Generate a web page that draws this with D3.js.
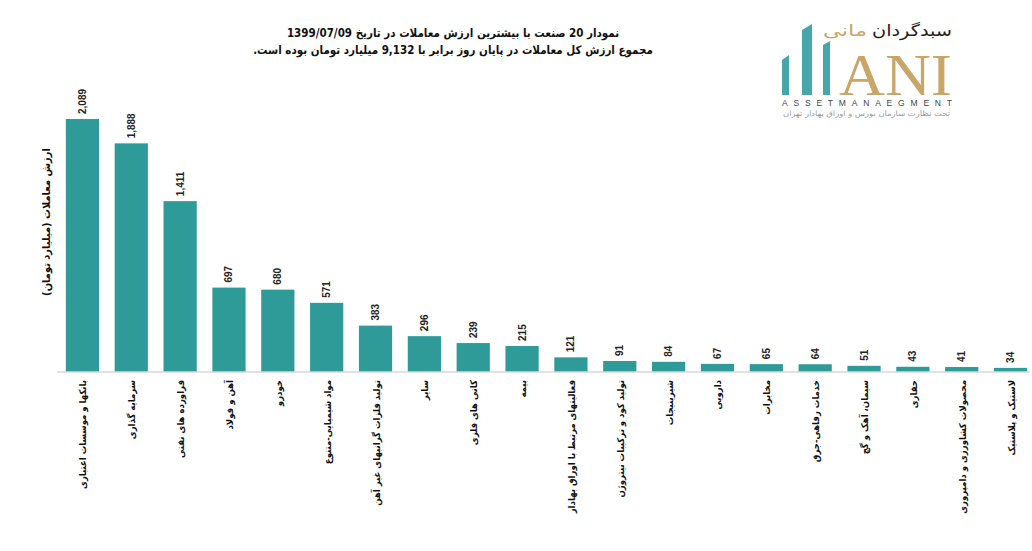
<!DOCTYPE html>
<html>
<head>
<meta charset="utf-8">
<script src="https://cdn.jsdelivr.net/npm/d3@7"></script>
<style>
  body { margin: 0; background: #fff; }
  svg { display: block; }
</style>
</head>
<body>
<svg width="1032" height="551"></svg>
<script>
const categories = [
    "بانکها و موسسات اعتباری",
    "سرمایه گذاری",
    "فراورده های نفتی",
    "آهن و فولاد",
    "خودرو",
    "مواد شیمیایی-متنوع",
    "تولید فلزات گرانبهای غیر آهن",
    "سایر",
    "کانی های فلزی",
    "بیمه",
    "فعالیتهای مرتبط با اوراق بهادار",
    "تولید کود و ترکیبات نیتروژن",
    "شیرینیجات",
    "دارویی",
    "مخابرات",
    "خدمات رفاهی-جرق",
    "سیمان، آهک و گچ",
    "حفاری",
    "محصولات کشاورزی و دامپروری",
    "لاستیک و پلاستیک"
]
const values = [2089, 1888, 1411, 697, 680, 571, 383, 296, 239, 215, 121, 91, 84, 67, 65, 64, 51, 43, 41, 34]

const titleLines = [
    "نمودار  20 صنعت با بیشترین ارزش معاملات در تاریخ 1399/07/09",
    "مجموع ارزش  کل معاملات در پایان روز برابر با 9,132 میلیارد تومان بوده است."
]
const yTitle = "ارزش معاملات (میلیارد تومان)"

const data = categories.map((c, i) => ({ name: c, value: values[i] }))

const faFont = "'DejaVu Sans Condensed', 'DejaVu Sans', sans-serif"
const svg = d3.select("svg")

const baseY = 372

const x = d3.scaleBand()
    .domain(categories)
    .range([58, 1035])
    .paddingInner(0.32)
    .paddingOuter(0.16)

const y = d3.scaleLinear()
    .domain([0, 2500])
    .range([baseY, baseY - 2500 * 0.1211])

// bars
svg.append("g")
    .selectAll("rect")
    .data(data)
    .join("rect")
    .attr("x", d => x(d.name))
    .attr("y", d => y(d.value))
    .attr("width", x.bandwidth())
    .attr("height", d => y(0) - y(d.value))
    .style("fill", "#2E9B98")

// axis line
svg.append("line")
    .attr("x1", 57).attr("x2", 1030)
    .attr("y1", baseY).attr("y2", baseY)
    .style("stroke", "#D9D9D9")
    .style("stroke-width", 1.3)

// value labels (rotated)
svg.append("g")
    .selectAll("text")
    .data(data)
    .join("text")
    .attr("transform", d => `translate(${x(d.name) + x.bandwidth() / 2 + 3.5}, ${y(d.value) - 5}) rotate(-90)`)
    .attr("text-anchor", "start")
    .text(d => d3.format(",")(d.value))
    .style("font-family", "'Liberation Sans', Arial, sans-serif")
    .style("font-size", "10px")
    .style("font-weight", "bold")
    .style("fill", "#222")

// category labels (rotated, reading downward)
svg.append("g")
    .selectAll("text")
    .data(data)
    .join("text")
    .attr("transform", d => `translate(${x(d.name) + x.bandwidth() / 2 + 4}, ${baseY + 8}) rotate(-90)`)
    .attr("direction", "rtl")
    .attr("text-anchor", "start")
    .text(d => d.name)
    .style("font-family", faFont)
    .style("font-size", "9.5px")
    .style("font-weight", "bold")
    .style("fill", "#111")

// y axis title
svg.append("text")
    .attr("transform", "translate(50, 222) rotate(-90)")
    .attr("direction", "rtl")
    .attr("text-anchor", "middle")
    .text(yTitle)
    .style("font-family", faFont)
    .style("font-size", "11px")
    .style("font-weight", "bold")
    .style("fill", "#111")

// chart title
titleLines.forEach((t, i) => {
    svg.append("text")
        .attr("x", 453)
        .attr("y", 37 + i * 17)
        .attr("direction", "rtl")
        .attr("text-anchor", "middle")
        .text(t)
        .style("font-family", faFont)
        .style("font-size", "11.5px")
        .style("font-weight", "bold")
        .style("fill", "#111")
})

// logo
const logo = svg.append("g")
const teal = "#45A7AA"
logo.append("polygon").attr("points", "782,60 789,55 789,95 782,95").style("fill", teal)
logo.append("polygon").attr("points", "802,30 812,24 812,95 802,95").style("fill", teal)
logo.append("polygon").attr("points", "823,45 830,41 830,95 823,95").style("fill", teal)

logo.append("text")
    .attr("x", 839).attr("y", 95)
    .text("ANI")
    .style("font-family", "'Liberation Serif', serif")
    .style("font-size", "60px")
    .attr("textLength", 113)
    .attr("lengthAdjust", "spacingAndGlyphs")
    .style("fill", "#C9A567")

logo.append("text")
    .attr("x", 952).attr("y", 36)
    .attr("direction", "rtl")
    .attr("text-anchor", "start")
    .attr("textLength", 80)
    .attr("lengthAdjust", "spacingAndGlyphs")
    .text("سبدگردان")
    .style("font-family", "'DejaVu Sans', sans-serif")
    .style("font-size", "16px")
    .style("fill", "#222")

logo.append("text")
    .attr("x", 867).attr("y", 36)
    .attr("direction", "rtl")
    .attr("text-anchor", "start")
    .attr("textLength", 44)
    .attr("lengthAdjust", "spacingAndGlyphs")
    .text("مانی")
    .style("font-family", "'DejaVu Sans', sans-serif")
    .style("font-size", "16px")
    .style("fill", "#C9A567")

logo.append("text")
    .attr("x", 782).attr("y", 106)
    .attr("textLength", 170)
    .attr("lengthAdjust", "spacing")
    .text("ASSETMANAEGMENT")
    .style("font-family", "'Liberation Sans', Arial, sans-serif")
    .style("font-size", "8.5px")
    .style("fill", "#444")

logo.append("text")
    .attr("x", 950).attr("y", 116)
    .attr("direction", "rtl")
    .attr("text-anchor", "start")
    .attr("textLength", 167)
    .attr("lengthAdjust", "spacingAndGlyphs")
    .text("تحت نظارت سازمان بورس و اوراق بهادار تهران")
    .style("font-family", "'DejaVu Sans Condensed', 'DejaVu Sans', sans-serif")
    .style("font-size", "7.5px")
    .style("fill", "#999")
</script>
</body>
</html>
